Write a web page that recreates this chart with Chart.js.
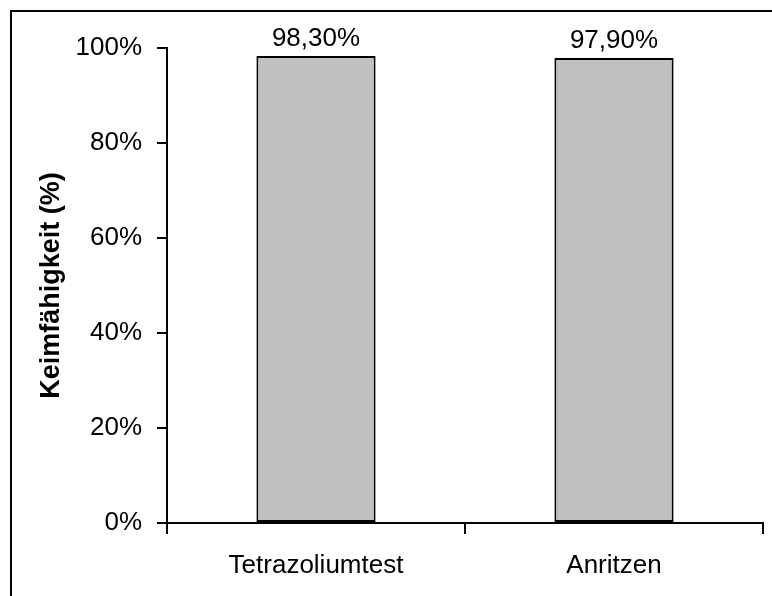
<!DOCTYPE html>
<html>
<head>
<meta charset="utf-8">
<script src="https://cdn.jsdelivr.net/npm/chart.js@4.4.1/dist/chart.umd.min.js"></script>
<style>
  html, body { margin: 0; padding: 0; background: #fff; }
  #wrap { width: 772px; height: 596px; position: relative; }
</style>
</head>
<body>
<div id="wrap"><canvas id="bars"></canvas></div>
<script>
const categories = ['Tetrazoliumtest', 'Anritzen'];
const values = [98.3, 97.9];
const yTicks = [0, 20, 40, 60, 80, 100];

const FONT = 'Arial, "Liberation Sans", sans-serif';

// outer frame (only left and top edges are visible in the original)
const framePlugin = {
  id: 'frame',
  beforeDraw(chart) {
    const ctx = chart.ctx;
    ctx.save();
    ctx.strokeStyle = '#000';
    ctx.lineWidth = 2;
    ctx.beginPath();
    ctx.moveTo(11, chart.height);
    ctx.lineTo(11, 11);
    ctx.lineTo(chart.width, 11);
    ctx.stroke();
    ctx.restore();
  }
};

// value labels over the bars, german decimal comma
const valueLabels = {
  id: 'valueLabels',
  afterDatasetsDraw(chart) {
    const ctx = chart.ctx;
    const meta = chart.getDatasetMeta(0);
    ctx.save();
    ctx.font = '26px ' + FONT;
    ctx.fillStyle = '#000';
    ctx.textAlign = 'center';
    ctx.textBaseline = 'alphabetic';
    meta.data.forEach((bar, i) => {
      const txt = values[i].toFixed(2).replace('.', ',') + '%';
      ctx.fillText(txt, bar.x, bar.y - 10);
    });
    ctx.restore();
  }
};

const ctx = document.getElementById('bars');
window.myBars = new Chart(ctx, {
  type: 'bar',
  data: {
    labels: categories,
    datasets: [{
      data: values,
      backgroundColor: '#c0c0c0',
      borderColor: '#000',
      borderWidth: 2,
      borderSkipped: false,
      categoryPercentage: 0.8,
      barPercentage: 0.5
    }]
  },
  options: {
    responsive: true,
    maintainAspectRatio: false,
    animation: false,
    layout: { padding: { left: 0, right: 9, top: 48, bottom: 0 } },
    plugins: {
      legend: { display: false },
      tooltip: { enabled: false }
    },
    scales: {
      x: {
        grid: {
          offset: true,
          drawOnChartArea: false,
          drawTicks: true,
          tickLength: 11,
          color: '#000',
          lineWidth: 2
        },
        border: { color: '#000', width: 2 },
        ticks: {
          color: '#000',
          padding: 16,
          maxRotation: 0,
          font: { family: FONT, size: 26 }
        },
        afterFit(scale) { scale.height = 73; }
      },
      y: {
        min: 0,
        max: 100,
        afterBuildTicks(scale) {
          scale.ticks = yTicks.map(v => ({ value: v }));
        },
        grid: {
          drawOnChartArea: false,
          drawTicks: true,
          tickLength: 10,
          color: '#000',
          lineWidth: 2
        },
        border: { color: '#000', width: 2 },
        ticks: {
          color: '#000',
          padding: 15,
          font: { family: FONT, size: 26 },
          callback: v => v + '%'
        },
        title: {
          display: true,
          text: 'Keimfähigkeit (%)',
          color: '#000',
          padding: { top: 35, bottom: 0 },
          font: { family: FONT, size: 27, weight: 'bold' }
        },
        afterFit(scale) { scale.width = 167; }
      }
    }
  },
  plugins: [framePlugin, valueLabels]
});
</script>
</body>
</html>
